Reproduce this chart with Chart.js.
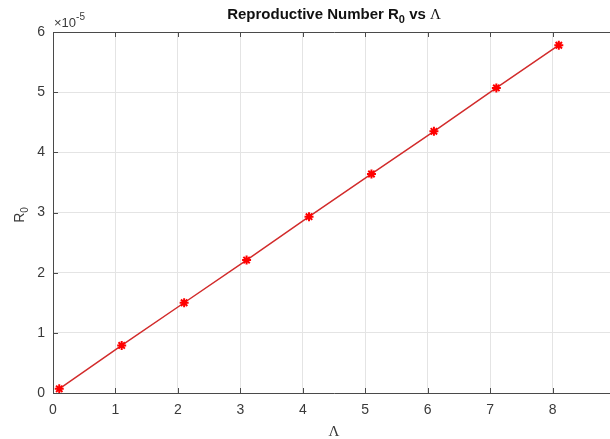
<!DOCTYPE html>
<html>
<head>
<meta charset="utf-8">
<script src="https://cdn.jsdelivr.net/npm/chart.js@4.4.1/dist/chart.umd.min.js"></script>
<style>
  html, body { margin: 0; padding: 0; background: #fff; overflow: hidden; }
  #wrap { width: 610px; height: 439px; overflow: hidden; position: relative; }
  canvas { display: block; }
</style>
</head>
<body>
<div id="wrap"><canvas id="c" width="640" height="439"></canvas></div>
<script>
// ---- data ----
const lambdaValues = [0.1, 1.1, 2.1, 3.1, 4.1, 5.1, 6.1, 7.1, 8.1];
const r0Values = [0.07e-5, 0.79e-5, 1.50e-5, 2.21e-5, 2.93e-5, 3.64e-5, 4.35e-5, 5.07e-5, 5.78e-5];
const xTicks = [0, 1, 2, 3, 4, 5, 6, 7, 8, 9];
const yTicks = [0, 1, 2, 3, 4, 5, 6];
const yExponent = -5;
const titleMain = "Reproductive Number R";
const titleSub = "0";
const titleVs = " vs ";
const titleSym = "Λ";
const xLabel = "Λ";
const yLabelMain = "R";
const yLabelSub = "0";

const scaleFactor = Math.pow(10, yExponent);
const points = lambdaValues.map((x, i) => ({ x: x, y: r0Values[i] }));

const AXIS_COLOR = '#4a4a4a';
const GRID_COLOR = '#e4e4e4';
const TEXT_COLOR = '#3a3a3a';
const SANS = '"Liberation Sans", Arial, Helvetica, sans-serif';
const SERIF = '"Liberation Serif", "Times New Roman", serif';

const decorPlugin = {
  id: 'decor',
  afterDatasetsDraw(chart) {
    const ctx = chart.ctx;
    const a = chart.chartArea;
    const xs = chart.scales.x, ys = chart.scales.y;
    ctx.save();
    // box
    ctx.strokeStyle = AXIS_COLOR;
    ctx.lineWidth = 1;
    ctx.beginPath();
    ctx.rect(Math.round(a.left) + 0.5, Math.round(a.top) + 0.5, a.right - a.left, Math.round(a.bottom) - Math.round(a.top));
    ctx.stroke();
    // inward ticks
    const tl = 5;
    ctx.beginPath();
    xTicks.forEach(t => {
      const px = Math.round(xs.getPixelForValue(t)) + 0.5;
      ctx.moveTo(px, a.bottom); ctx.lineTo(px, a.bottom - tl);
      ctx.moveTo(px, a.top); ctx.lineTo(px, a.top + tl);
    });
    yTicks.forEach(t => {
      const py = Math.round(ys.getPixelForValue(t * scaleFactor)) + 0.5;
      ctx.moveTo(a.left, py); ctx.lineTo(a.left + tl, py);
      ctx.moveTo(a.right, py); ctx.lineTo(a.right - tl, py);
    });
    ctx.stroke();

    // exponent label
    ctx.fillStyle = TEXT_COLOR;
    ctx.textBaseline = 'alphabetic';
    ctx.textAlign = 'left';
    ctx.font = '13px ' + SANS;
    const ex0 = a.left + 1;
    ctx.fillText('×10', ex0, a.top - 5);
    const w10 = ctx.measureText('×10').width;
    ctx.font = '10px ' + SANS;
    ctx.fillText(String(yExponent), ex0 + w10, a.top - 12);

    // title
    const cx = (a.left + a.right) / 2;
    ctx.font = 'bold 15px ' + SANS;
    const w1 = ctx.measureText(titleMain).width;
    const w3 = ctx.measureText(titleVs).width;
    ctx.font = 'bold 11px ' + SANS;
    const w2 = ctx.measureText(titleSub).width;
    ctx.font = '15px ' + SERIF;
    const w4 = ctx.measureText(titleSym).width;
    let tx = cx - (w1 + w2 + w3 + w4) / 2;
    const tby = 19;
    ctx.fillStyle = '#111';
    ctx.font = 'bold 15px ' + SANS;
    ctx.fillText(titleMain, tx, tby);
    tx += w1;
    ctx.font = 'bold 11px ' + SANS;
    ctx.fillText(titleSub, tx, tby + 4);
    tx += w2;
    ctx.font = 'bold 15px ' + SANS;
    ctx.fillText(titleVs, tx, tby);
    tx += w3;
    ctx.font = '15px ' + SERIF;
    ctx.fillText(titleSym, tx, tby);

    // x label
    ctx.fillStyle = TEXT_COLOR;
    ctx.font = '15px ' + SERIF;
    ctx.textAlign = 'center';
    ctx.fillText(xLabel, cx, 436);

    // y label (rotated)
    ctx.save();
    ctx.translate(24, 215);
    ctx.rotate(-Math.PI / 2);
    ctx.textAlign = 'left';
    ctx.font = '14px ' + SANS;
    const wr = ctx.measureText(yLabelMain).width;
    ctx.font = '10px ' + SANS;
    const w0 = ctx.measureText(yLabelSub).width;
    const sx = -(wr + w0) / 2;
    ctx.font = '14px ' + SANS;
    ctx.fillText(yLabelMain, sx, 0);
    ctx.font = '10px ' + SANS;
    ctx.fillText(yLabelSub, sx + wr, 4);
    ctx.restore();

    ctx.restore();
  }
};

new Chart(document.getElementById('c'), {
  type: 'line',
  data: {
    datasets: [{
      data: points,
      borderColor: '#d22b2b',
      borderWidth: 1.5,
      pointStyle: 'star',
      pointRadius: 4.5,
      pointBorderWidth: 2,
      pointBorderColor: '#ff0000',
      pointBackgroundColor: '#ff0000',
      tension: 0,
      fill: false,
      clip: false
    }]
  },
  options: {
    responsive: false,
    animation: false,
    devicePixelRatio: 1,
    layout: { padding: { top: 32, right: 25, left: 0, bottom: 0 } },
    plugins: { legend: { display: false }, title: { display: false }, tooltip: { enabled: false } },
    scales: {
      x: {
        type: 'linear',
        min: 0, max: 9,
        afterBuildTicks: (s) => { s.ticks = xTicks.map(v => ({ value: v })); },
        afterFit: (s) => { s.height = 46; },
        ticks: { color: TEXT_COLOR, font: { size: 14, family: SANS }, padding: 9, maxRotation: 0, autoSkip: false },
        grid: { color: GRID_COLOR, drawTicks: false, lineWidth: 1 },
        border: { display: false }
      },
      y: {
        type: 'linear',
        min: 0, max: 6 * scaleFactor,
        afterBuildTicks: (s) => { s.ticks = yTicks.map(v => ({ value: v * scaleFactor })); },
        afterFit: (s) => { s.width = 53; },
        ticks: {
          color: TEXT_COLOR, font: { size: 14, family: SANS }, padding: 8,
          callback: (v) => String(Math.round(v / scaleFactor))
        },
        grid: { color: GRID_COLOR, drawTicks: false, lineWidth: 1 },
        border: { display: false }
      }
    }
  },
  plugins: [decorPlugin]
});
</script>
</body>
</html>
